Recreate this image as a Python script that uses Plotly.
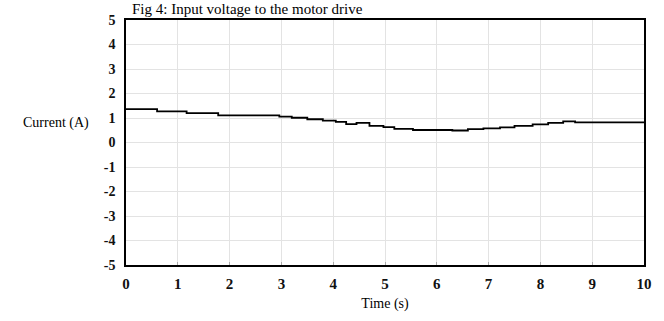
import plotly.graph_objects as go

time_s = [0, 0.6, 1.17, 1.78, 2.96, 3.2, 3.5, 3.8, 4.05, 4.25, 4.45, 4.7, 4.97, 5.18, 5.54, 6.3, 6.6, 6.9, 7.22, 7.5, 7.85, 8.15, 8.44, 8.67, 10]
current_a = [1.36, 1.27, 1.2, 1.11, 1.06, 1.01, 0.95, 0.89, 0.84, 0.75, 0.8, 0.68, 0.63, 0.56, 0.51, 0.49, 0.55, 0.58, 0.62, 0.68, 0.74, 0.8, 0.86, 0.82, 0.82]
x_ticks = list(range(0, 11))
y_ticks = list(range(-5, 6))
x_labels = [f"<b>{v}</b>" for v in x_ticks]
y_labels = [f"<b>{v}</b>" for v in y_ticks]

font_family = "Liberation Serif"

fig = go.Figure()
fig.add_trace(go.Scatter(x=time_s, y=current_a, mode="lines", line_shape="hv",
                         line=dict(color="black", width=1.8), showlegend=False))

fig.update_layout(
    width=664, height=321,
    margin=dict(l=126, r=14, t=20, b=54),
    paper_bgcolor="white", plot_bgcolor="white",
    font=dict(family=font_family, color="black", size=14),
    xaxis=dict(range=[0, 10], tickvals=x_ticks, ticktext=x_labels, showgrid=True, gridcolor="#e3e3e3",
               showline=True, linecolor="black", linewidth=1.5, mirror=True,
               ticks="inside", ticklen=3, tickcolor="#aaaaaa", ticklabelstandoff=4,
               tickfont=dict(family=font_family, size=15, color="#111111"),
               title=dict(text="Time (s)", font=dict(family=font_family, size=14), standoff=7),
               zeroline=False),
    yaxis=dict(range=[-5, 5], tickvals=y_ticks, ticktext=y_labels, showgrid=True, gridcolor="#e3e3e3",
               showline=True, linecolor="black", linewidth=1.5, mirror=True,
               ticks="", ticklabelstandoff=6, tickfont=dict(family=font_family, size=14, color="#111111"),
               zeroline=False),
    annotations=[
        dict(text="Fig 4: Input voltage to the motor drive", xref="paper", yref="paper",
             x=0.235, y=1.006, xanchor="center", yanchor="bottom", showarrow=False,
             font=dict(family=font_family, size=15, color="black")),
        dict(text="Current (A)", xref="paper", yref="y", x=-0.135, y=0.8,
             xanchor="center", yanchor="middle", showarrow=False,
             font=dict(family=font_family, size=14, color="black")),
    ],
)

fig.write_html("out.html")
